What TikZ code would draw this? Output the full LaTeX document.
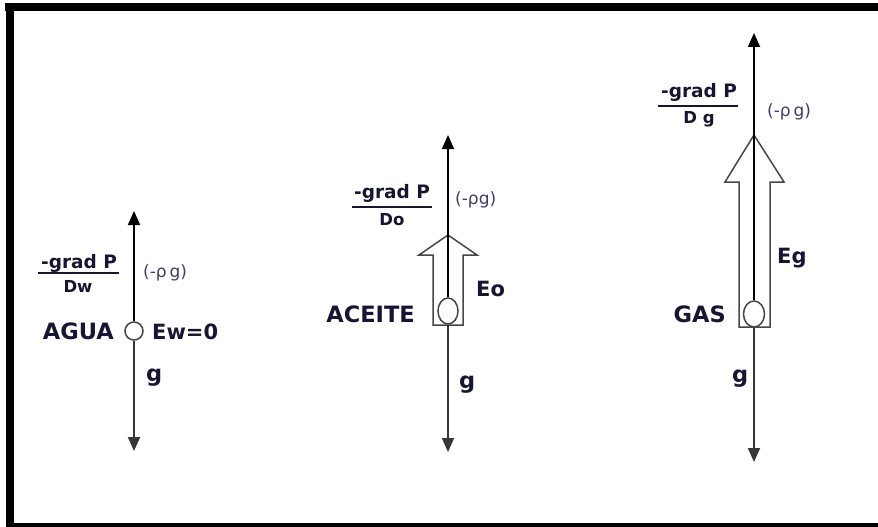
\documentclass[tikz,border=0pt]{standalone}
\usepackage{fontspec}
\setmainfont{DejaVu Sans}
\usetikzlibrary{arrows.meta,shapes.geometric}
\definecolor{txt}{RGB}{22,22,52}
\definecolor{rhoc}{RGB}{62,62,105}
\definecolor{outl}{RGB}{70,70,70}
\definecolor{lowl}{RGB}{55,55,55}
\tikzset{
  vec/.style={line width=1.8pt, -{Triangle[length=14pt,width=12pt]}},
  vecdown/.style={vec, draw=lowl, color=lowl},
  hollow/.style={draw=outl, line width=1.5pt, fill=white, line join=miter},
  bubble/.style={draw=outl, line width=1.5pt, fill=white, ellipse, inner sep=0pt},
  biglab/.style={text=txt, font=\fontsize{22.5}{24}\selectfont\bfseries, inner sep=0pt},
  elab/.style={text=txt, font=\fontsize{21}{23}\selectfont\bfseries, inner sep=0pt},
  numlab/.style={text=txt, font=\fontsize{18.5}{20}\selectfont\bfseries, inner sep=0pt, anchor=base},
  denlab/.style={text=txt, font=\fontsize{16.5}{18}\selectfont\bfseries, inner sep=0pt, anchor=base},
  rholab/.style={text=rhoc, font=\fontsize{17}{19}\selectfont, inner sep=0pt, anchor=base west},
  fracbar/.style={draw=txt, line width=1.3pt}
}
\begin{document}
\begin{tikzpicture}[x=1pt,y=-1pt]
\useasboundingbox (0,0) rectangle (878,527);
% frame
\fill[black] (5,3) rectangle (878,11);
\fill[black] (6,3) rectangle (14,527);
\fill[black] (6,523) rectangle (878,527);

% ---------------- AGUA ----------------
\coordinate (wt) at (134,211);
\coordinate (wd) at (134,451);
\node[bubble, minimum width=18pt, minimum height=18pt] (wb) at (134,331) {};
\draw[vec] (wb.north) -- (wt);
\draw[vecdown] (wb.south) -- (wd);
\node[biglab, anchor=base east] (wname) at (114,339) {AGUA};
\node[elab, anchor=base west] (wE) at (152,339) {Ew=0};
\node[biglab, anchor=base west] (wg) at (146,381) {g};
\node[numlab] (wnum) at (79,268) {-grad P};
\draw[fracbar] (38,273) -- (119,273);
\node[denlab] (wden) at (78,292) {Dw};
\node[rholab] (wrho) at (143,277) {(-ρ\,g)};

% ---------------- ACEITE ----------------
\draw[hollow] (433,325) -- (433,255) -- (419,255) -- (448,235) -- (477,255) -- (463,255) -- (463,325) -- cycle;
\coordinate (ot) at (448,135);
\coordinate (od) at (448,452);
\node[bubble, minimum width=20pt, minimum height=26pt] (ob) at (448,311) {};
\draw[vec] (ob.north) -- (ot);
\draw[vecdown] (ob.south) -- (od);
\node[biglab, anchor=base east] (oname) at (415,322) {ACEITE};
\node[elab, anchor=base west] (oE) at (476,296) {Eo};
\node[biglab, anchor=base west] (og) at (459,388) {g};
\node[numlab] (onum) at (392,198) {-grad P};
\draw[fracbar] (352,207) -- (432,207);
\node[denlab] (oden) at (392,225) {Do};
\node[rholab] (orho) at (455,204) {(-ρg)};

% ---------------- GAS ----------------
\draw[hollow] (739,327) -- (739,182) -- (725,182) -- (754,135) -- (784,182) -- (770,182) -- (770,327) -- cycle;
\coordinate (gt) at (754,33);
\coordinate (gd) at (754,462);
\node[bubble, minimum width=21pt, minimum height=26pt] (gb) at (754,314) {};
\draw[vec] (gb.north) -- (gt);
\draw[vecdown] (gb.south) -- (gd);
\node[biglab, anchor=base east] (gname) at (726,322) {GAS};
\node[elab, anchor=base west] (gE) at (777,263) {Eg};
\node[biglab, anchor=base west] (gg) at (732,382) {g};
\node[numlab] (gnum) at (699,97) {-grad P};
\draw[fracbar] (658,106) -- (738,106);
\node[denlab] (gden) at (699,123) {D g};
\node[rholab] (grho) at (767,116) {(-ρ\,g)};
\end{tikzpicture}
\end{document}
